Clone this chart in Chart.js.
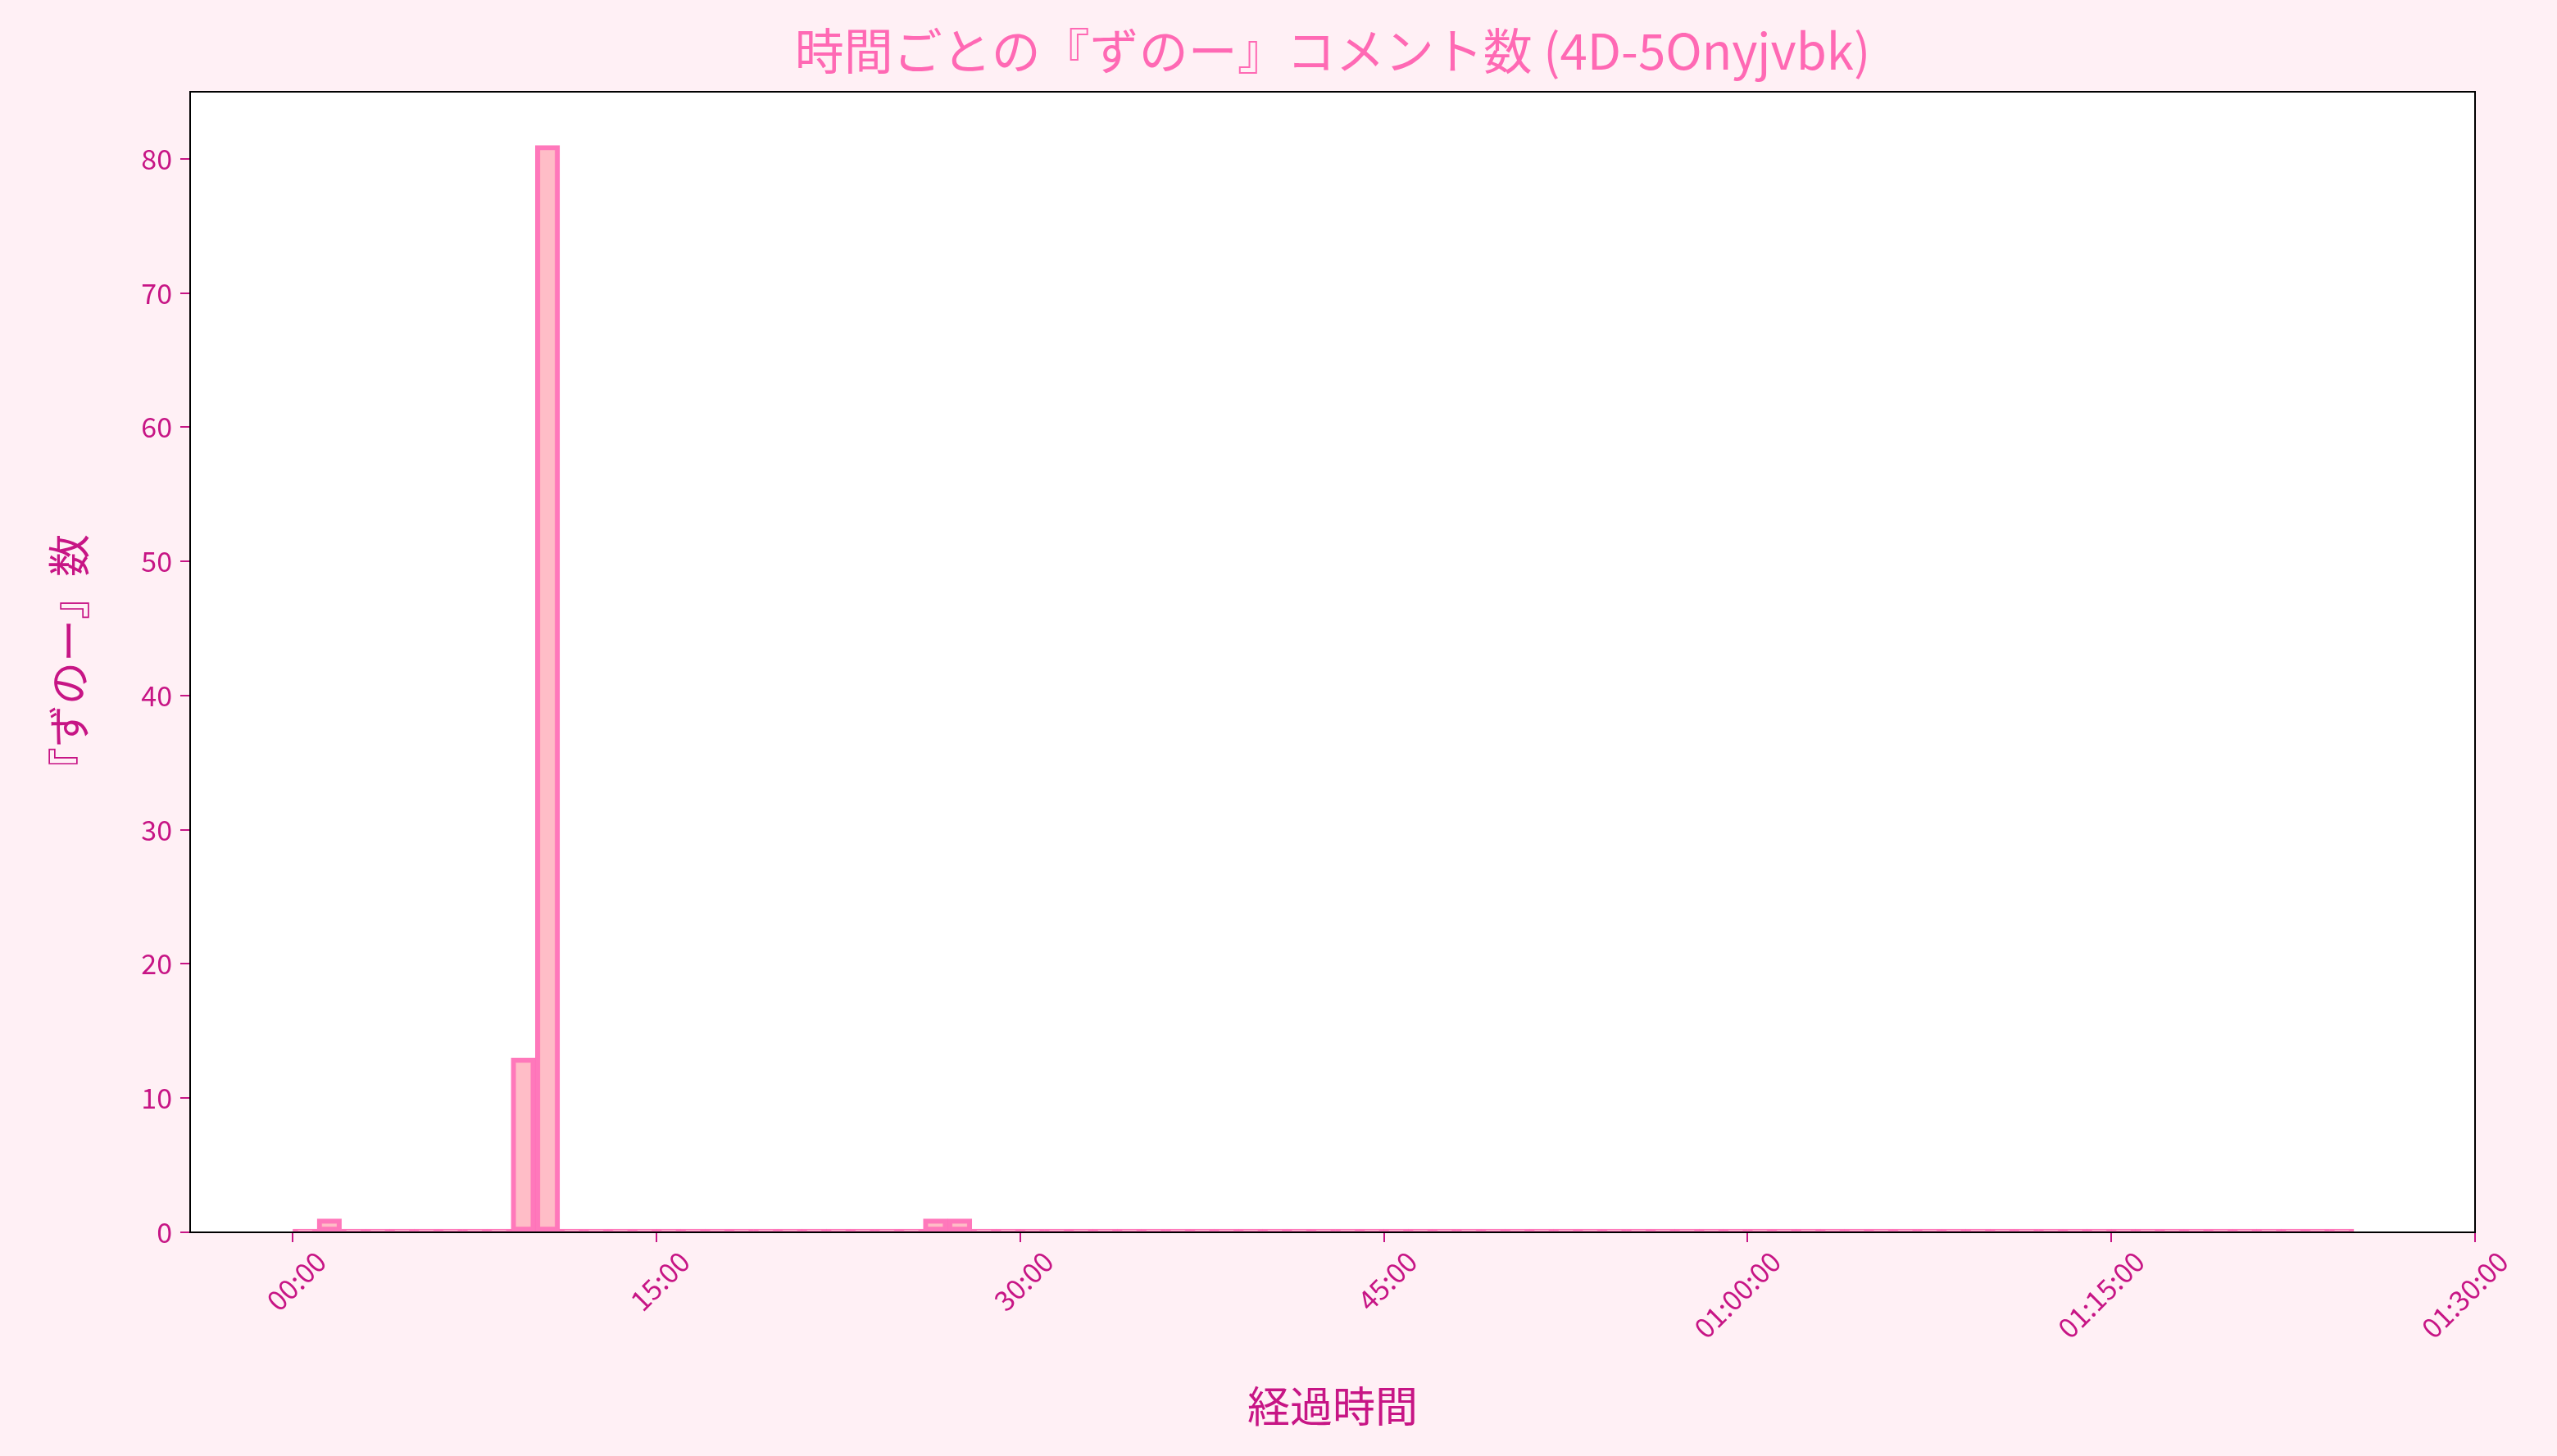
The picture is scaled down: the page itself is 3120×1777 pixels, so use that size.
<!DOCTYPE html>
<html>
<head>
<meta charset="utf-8">
<script src="https://cdn.jsdelivr.net/npm/chart.js@4"></script>
<style>
  html, body { margin: 0; padding: 0; background: #fff0f5; }
  canvas { display: block; }
</style>
</head>
<body>
<canvas id="c" width="3120" height="1777"></canvas>
<script>
// minutes from start; one bin per minute (0..84)
const bin_count = 85;
const hit_minutes = [1, 9, 10, 26, 27];
const hit_counts = [1, 13, 81, 1, 1];
const x_ticks = [0, 15, 30, 45, 60, 75, 90];
const y_ticks = [0, 10, 20, 30, 40, 50, 60, 70, 80];

const FONT = '"Noto Sans CJK JP", "Noto Sans", sans-serif';

function fmt_time(min) {
  const h = Math.floor(min / 60), m = min % 60;
  const mm = String(m).padStart(2, '0') + ':00';
  return h > 0 ? String(h).padStart(2, '0') + ':' + mm : mm;
}

const bars = [];
for (let i = 0; i < bin_count; i++) {
  const k = hit_minutes.indexOf(i);
  bars.push({ x: i + 0.5, y: k >= 0 ? hit_counts[k] : 0 });
}

const decor = {
  id: 'decor',
  beforeDatasetsDraw(chart) {
    const ctx = chart.ctx, a = chart.chartArea;
    ctx.save();
    ctx.fillStyle = '#ffffff';
    ctx.fillRect(a.left, a.top, a.right - a.left, a.bottom - a.top);
    ctx.restore();
  },
  afterDraw(chart) {
    const ctx = chart.ctx;
    const a = chart.chartArea;
    ctx.save();
    ctx.strokeStyle = '#000';
    ctx.lineWidth = 2;
    ctx.strokeRect(a.left, a.top, a.right - a.left, a.bottom - a.top);
    ctx.textAlign = 'center';
    ctx.textBaseline = 'middle';
    ctx.fillStyle = '#ff69b4';
    ctx.font = '60px ' + FONT;
    ctx.fillText('時間ごとの『ずのー』コメント数 (4D-5Onyjvbk)', (a.left + a.right) / 2, 62);
    ctx.fillStyle = '#c71585';
    ctx.font = '52px ' + FONT;
    ctx.fillText('経過時間', (a.left + a.right) / 2, 1716);
    ctx.translate(84, (a.top + a.bottom) / 2);
    ctx.rotate(-Math.PI / 2);
    ctx.fillText('『ずのー』数', 0, 0);
    ctx.restore();
  }
};

new Chart(document.getElementById('c'), {
  type: 'bar',
  data: {
    datasets: [{
      data: bars,
      backgroundColor: 'rgba(255,182,193,0.9)',
      borderColor: 'rgba(255,105,180,0.9)',
      borderWidth: 6,
      borderSkipped: false,
      minBarLength: 4,
      barPercentage: 1,
      categoryPercentage: 1
    }]
  },
  options: {
    responsive: false,
    devicePixelRatio: 1,
    animation: false,
    layout: { padding: { top: 112, right: 100, left: 0, bottom: 0 } },
    plugins: { legend: { display: false }, tooltip: { enabled: false } },
    scales: {
      x: {
        type: 'linear',
        offset: false,
        min: -4.24,
        max: 90,
        afterBuildTicks: s => { s.ticks = x_ticks.map(v => ({ value: v })); },
        afterFit: s => { s.height = 273; },
        ticks: {
          color: '#c71585',
          font: { size: 34, family: FONT },
          minRotation: 45, maxRotation: 45,
          labelOffset: 34,
          callback: v => fmt_time(v)
        },
        grid: { display: true, offset: false, drawOnChartArea: false, color: '#c71585', tickLength: 12, lineWidth: 2 },
        border: { color: '#000', width: 2 }
      },
      y: {
        min: 0,
        max: 85,
        afterBuildTicks: s => { s.ticks = y_ticks.map(v => ({ value: v })); },
        afterFit: s => { s.width = 232; },
        ticks: { color: '#c71585', font: { size: 34, family: FONT }, padding: 10 },
        grid: { color: 'rgba(255,105,180,0.5)', lineWidth: 2, tickLength: 12, tickColor: '#c71585' },
        border: { color: '#000', width: 2, dash: [3, 5] }
      }
    }
  },
  plugins: [decor]
});
</script>
</body>
</html>
